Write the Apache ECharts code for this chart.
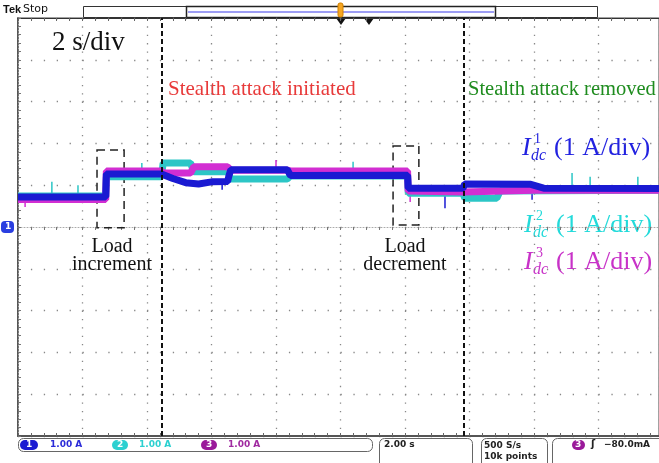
<!DOCTYPE html>
<html><head><meta charset="utf-8">
<script src="https://cdn.jsdelivr.net/npm/echarts@6/dist/echarts.min.js"></script>
<style>html,body{margin:0;padding:0;background:#fff}#c{width:659px;height:463px}</style>
</head><body><div id="c"></div><script>
// Time base: 2 s/div; vertical: 1 A/div with ground at the centre line.
const ch1Time = [0, 2.72, 2.74, 4.45, 4.47, 4.8, 5.2, 5.6, 6.0, 6.5, 6.55, 6.6, 8.35, 8.45, 12.08, 12.1, 13.8, 13.85, 15.9, 16.3, 19.9];
const ch1Amp  = [0.72, 0.72, 1.27, 1.27, 1.25, 1.16, 1.06, 1.03, 1.08, 1.09, 1.25, 1.37, 1.37, 1.23, 1.24, 0.93, 0.93, 1.03, 1.02, 0.93, 0.92];
const ch2Time = [0, 2.72, 2.74, 4.45, 4.5, 5.35, 5.45, 6.5, 6.6, 8.35, 8.45, 12.08, 12.1, 13.8, 13.85, 14.85, 14.95, 19.9];
const ch2Amp  = [0.74, 0.74, 1.20, 1.20, 1.53, 1.53, 1.32, 1.32, 1.15, 1.15, 1.22, 1.22, 0.81, 0.81, 0.69, 0.69, 0.86, 0.88];
const ch3Time = [0, 2.72, 2.74, 4.45, 4.5, 5.35, 5.45, 6.5, 6.6, 8.35, 8.45, 12.08, 12.1, 13.8, 16.0, 19.9];
const ch3Amp  = [0.66, 0.66, 1.34, 1.34, 1.29, 1.29, 1.44, 1.44, 1.36, 1.36, 1.34, 1.34, 0.86, 0.84, 0.88, 0.88];

// Isolated glitches (time, peak current)
const ch1SpikeTime = [6.33, 13.24, 15.94];
const ch1SpikeAmp  = [0.89, 0.45, 0.65];
const ch2SpikeTime = [1.05, 1.86, 3.84, 10.39, 17.18, 17.74, 19.22];
const ch2SpikeAmp  = [1.08, 1.00, 1.53, 1.56, 1.29, 1.20, 1.20];
const ch3SpikeTime = [0.22, 8.0, 12.16];
const ch3SpikeAmp  = [0.48, 1.60, 0.60];

const eventTimes = [4.465, 13.83];                 // attack start / removal
const loadBoxes = [[2.45, 1.84, 3.29, -0.02], [11.63, 1.94, 12.43, 0.05]];

const X_MAX = 19.876;   // visible part of the 20 s record
const C1 = '#1a1ad2', C2 = '#2cc6c6', C3 = '#d22ed2';
const pairs = (t, v) => t.map((x, i) => [x, v[i]]);

// level of a trace at time t, taken from its breakpoints
function levelAt(t, ts, vs) {
  for (let i = 1; i < ts.length; i++) {
    if (t <= ts[i]) {
      const f = (t - ts[i - 1]) / (ts[i] - ts[i - 1]);
      return vs[i - 1] + f * (vs[i] - vs[i - 1]);
    }
  }
  return vs[vs.length - 1];
}
function spikeData(st, sv, ts, vs) {
  const out = [];
  st.forEach((t, i) => { out.push([t, levelAt(t, ts, vs)], [t, sv[i]], '-'); });
  return out;
}

const chart = echarts.init(document.getElementById('c'), null, {renderer: 'canvas'});

const tickCommon = {show: true, inside: true, length: 3, lineStyle: {color: '#666', width: 1}};
const minorCommon = {show: true, splitNumber: 5, length: 3, lineStyle: {color: '#666', width: 1}};

const traceSeries = (name, t, v, color) => ({
  name, type: 'line', data: pairs(t, v), showSymbol: false, silent: true,
  lineStyle: {color, width: 7}, itemStyle: {color}, animation: false, z: 3
});
const spikeSeries = (name, data, color) => ({
  name, type: 'line', data, showSymbol: false, silent: true, connectNulls: false,
  lineStyle: {color, width: 1.5}, itemStyle: {color}, animation: false, z: 2
});

const serif = 'Liberation Serif';

function idcLabel(x, y, sup, color) {
  return {
    type: 'group', x, y, children: [
      {type: 'text', x: 0, y: 0, style: {text: 'I', font: 'italic 26px ' + serif, fill: color}},
      {type: 'text', x: 12, y: -3, style: {text: sup, font: '14px ' + serif, fill: color}},
      {type: 'text', x: 9, y: 13, style: {text: 'dc', font: 'italic 16px ' + serif, fill: color}},
      {type: 'text', x: 32, y: 0, style: {text: '(1 A/div)', font: '26px ' + serif, fill: color}}
    ]
  };
}

const option = {
  backgroundColor: '#fff',
  animation: false,
  grid: {left: 18, top: 18, right: 0, bottom: 27, show: true, borderColor: '#444', borderWidth: 1},
  xAxis: [
    {type: 'value', min: 0, max: X_MAX, interval: 2, position: 'bottom',
     axisLine: {show: true, onZero: false, lineStyle: {color: '#555', width: 2}},
     axisTick: tickCommon, minorTick: minorCommon, axisLabel: {show: false},
     splitLine: {show: true, lineStyle: {color: '#888', width: 1.3, type: [1.3, 7.06]}}},
    {type: 'value', min: 0, max: X_MAX, interval: 2, position: 'top',
     axisLine: {show: true, onZero: false, lineStyle: {color: '#333', width: 1}},
     axisTick: tickCommon, minorTick: minorCommon, axisLabel: {show: false}, splitLine: {show: false}},
    {type: 'value', min: 0, max: X_MAX, interval: 2, position: 'bottom',
     axisLine: {show: true, onZero: true, lineStyle: {color: '#aaa', width: 1, type: [1, 2]}},
     axisTick: {show: true, inside: false, length: 3, lineStyle: {color: '#777'}},
     minorTick: {show: true, splitNumber: 5, length: 3, lineStyle: {color: '#777'}},
     axisLabel: {show: false}, splitLine: {show: false}}
  ],
  yAxis: [
    {type: 'value', min: -5, max: 5, interval: 1, position: 'left',
     axisLine: {show: true, onZero: false, lineStyle: {color: '#555', width: 2}},
     axisTick: tickCommon, minorTick: minorCommon, axisLabel: {show: false},
     splitLine: {show: true, lineStyle: {color: '#888', width: 1.3, type: [1.3, 11.6]}}},
    {type: 'value', min: -5, max: 5, interval: 1, position: 'right',
     axisLine: {show: true, onZero: true, lineStyle: {color: '#aaa', width: 1, type: [1, 2]}},
     axisTick: {show: true, inside: false, length: 3, lineStyle: {color: '#777'}},
     minorTick: {show: true, splitNumber: 5, length: 3, lineStyle: {color: '#777'}},
     axisLabel: {show: false}, splitLine: {show: false}}
  ],
  series: [
    spikeSeries('I2 glitches', spikeData(ch2SpikeTime, ch2SpikeAmp, ch2Time, ch2Amp), C2),
    spikeSeries('I3 glitches', spikeData(ch3SpikeTime, ch3SpikeAmp, ch3Time, ch3Amp), C3),
    spikeSeries('I1 glitches', spikeData(ch1SpikeTime, ch1SpikeAmp, ch1Time, ch1Amp), C1),
    traceSeries('I2', ch2Time, ch2Amp, C2),
    traceSeries('I3', ch3Time, ch3Amp, C3),
    Object.assign(traceSeries('I1', ch1Time, ch1Amp, C1), {
      markLine: {
        silent: true, symbol: 'none', label: {show: false},
        lineStyle: {color: '#111', width: 2, type: [5, 3]},
        data: eventTimes.map(t => ({xAxis: t}))
      },
      markArea: {
        silent: true, label: {show: false},
        itemStyle: {color: 'rgba(0,0,0,0)', borderColor: '#222', borderWidth: 1.5, borderType: [8, 5]},
        data: loadBoxes.map(b => [{xAxis: b[0], yAxis: b[1]}, {xAxis: b[2], yAxis: b[3]}])
      }
    })
  ],
  graphic: [
    // instrument header
    {type: 'text', x: 3, y: 4, style: {text: 'Tek', font: 'bold 11px Liberation Sans', fill: '#111'}},
    {type: 'text', x: 23, y: 4, style: {text: 'Stop', font: '11px DejaVu Sans', fill: '#111'}},
    {type: 'rect', shape: {x: 83.5, y: 6.5, width: 514, height: 11}, style: {fill: '#fff', stroke: '#333', lineWidth: 1}},
    {type: 'rect', shape: {x: 186.5, y: 6.5, width: 309, height: 11}, style: {fill: 'none', stroke: '#222', lineWidth: 1.5}},
    {type: 'line', shape: {x1: 188, y1: 12, x2: 494, y2: 12}, style: {stroke: '#7c7cf0', lineWidth: 1.5}},
    {type: 'rect', shape: {x: 338, y: 3, width: 5, height: 14, r: 2}, style: {fill: '#f5a623', stroke: '#d08000'}},
    {type: 'polygon', shape: {points: [[336, 18], [346, 18], [341, 25]]}, style: {fill: '#111'}},
    {type: 'polygon', shape: {points: [[364, 18], [374, 18], [369, 25]]}, style: {fill: '#111'}},

    // channel 1 ground marker
    {type: 'rect', shape: {x: 1, y: 221, width: 13, height: 12, r: 4}, style: {fill: '#2a3ee0'}},
    {type: 'text', x: 5, y: 222, style: {text: '1', font: 'bold 9px DejaVu Sans', fill: '#fff'}},

    // annotations
    {type: 'text', x: 52, y: 29, style: {text: '2 s/div', font: '27px ' + serif, fill: '#111'}},
    {type: 'text', x: 168, y: 79, style: {text: 'Stealth attack initiated', font: '21px ' + serif, fill: '#e83a3a'}},
    {type: 'text', x: 468, y: 79, style: {text: 'Stealth attack removed', font: '20.5px ' + serif, fill: '#1e8c1e'}},
    {type: 'text', x: 112, y: 238, style: {text: 'Load\nincrement', font: '20px ' + serif, fill: '#111', align: 'center', lineHeight: 18}},
    {type: 'text', x: 405, y: 238, style: {text: 'Load\ndecrement', font: '20px ' + serif, fill: '#111', align: 'center', lineHeight: 18}},
    idcLabel(522, 135, '1', '#2222e0'),
    idcLabel(524, 212, '2', '#22dada'),
    idcLabel(524, 249, '3', '#c832c8'),

    // status bar
    {type: 'rect', shape: {x: 18.5, y: 438.5, width: 354, height: 13, r: 5}, style: {fill: 'none', stroke: '#666'}},
    {type: 'rect', shape: {x: 20, y: 440, width: 18, height: 10, r: 5}, style: {fill: '#1a1ad2'}},
    {type: 'text', x: 26, y: 440, style: {text: '1', font: 'bold 9px DejaVu Sans', fill: '#fff'}},
    {type: 'text', x: 50, y: 440, style: {text: '1.00 A', font: 'bold 9px DejaVu Sans', fill: '#2b2bd8'}},
    {type: 'rect', shape: {x: 112, y: 440, width: 16, height: 10, r: 5}, style: {fill: '#2cd0d0'}},
    {type: 'text', x: 117, y: 440, style: {text: '2', font: 'bold 9px DejaVu Sans', fill: '#fff'}},
    {type: 'text', x: 139, y: 440, style: {text: '1.00 A', font: 'bold 9px DejaVu Sans', fill: '#2cd0d0'}},
    {type: 'rect', shape: {x: 201, y: 440, width: 16, height: 10, r: 5}, style: {fill: '#9a1a9a'}},
    {type: 'text', x: 206, y: 440, style: {text: '3', font: 'bold 9px DejaVu Sans', fill: '#fff'}},
    {type: 'text', x: 228, y: 440, style: {text: '1.00 A', font: 'bold 9px DejaVu Sans', fill: '#a02aa0'}},
    {type: 'rect', shape: {x: 379.5, y: 438.5, width: 93, height: 30, r: 5}, style: {fill: 'none', stroke: '#666'}},
    {type: 'text', x: 384, y: 440, style: {text: '2.00 s', font: 'bold 9px DejaVu Sans', fill: '#222'}},
    {type: 'rect', shape: {x: 481.5, y: 438.5, width: 66, height: 30, r: 5}, style: {fill: 'none', stroke: '#666'}},
    {type: 'text', x: 484, y: 440, style: {text: '500 S/s\n10k points', font: 'bold 9px DejaVu Sans', fill: '#222', lineHeight: 11}},
    {type: 'rect', shape: {x: 552.5, y: 438.5, width: 130, height: 30, r: 5}, style: {fill: 'none', stroke: '#666'}},
    {type: 'rect', shape: {x: 572, y: 440, width: 13, height: 10, r: 5}, style: {fill: '#9a1a9a'}},
    {type: 'text', x: 575, y: 440, style: {text: '3', font: 'bold 9px DejaVu Sans', fill: '#fff'}},
    {type: 'text', x: 591, y: 439, style: {text: '\u0283', font: 'bold 10px DejaVu Sans', fill: '#222'}},
    {type: 'text', x: 604, y: 440, style: {text: '\u221280.0mA', font: 'bold 9px DejaVu Sans', fill: '#222'}}
  ]
};
chart.setOption(option);
</script></body></html>
